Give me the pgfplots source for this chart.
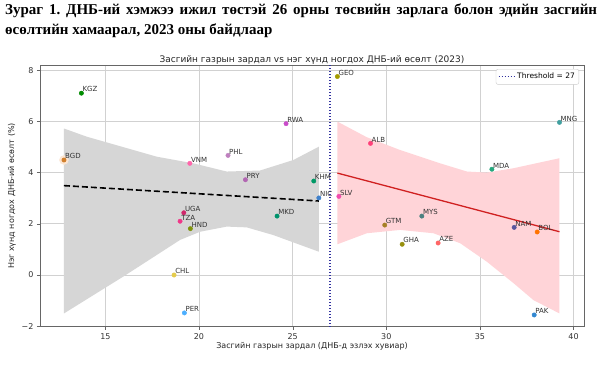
\documentclass[border=0pt]{standalone}
\usepackage{pgfplots}
\pgfplotsset{compat=1.18}
\usepackage{fontspec}
\setmainfont{DejaVu Sans}
\newfontfamily\titlefont{Liberation Serif}
\definecolor{bandgray}{RGB}{214,214,214}
\definecolor{bandpink}{RGB}{255,212,216}
\definecolor{regred}{RGB}{208,32,32}
\definecolor{thr}{RGB}{50,50,160}
\definecolor{halo}{RGB}{253,230,210}
\newcommand{\cpt}[4]{\addplot[forget plot, only marks, mark=*, mark size=2.2pt, draw=#4, fill=#4,
  nodes near coords={#3},
  every node near coord/.append style={anchor=south west, inner sep=1pt, text=black!80, font=\fontsize{7}{7}\selectfont}]
  coordinates {(#1,#2)};}
\frenchspacing
\begin{document}
\begin{tikzpicture}
\useasboundingbox (0,0) rectangle (602pt,377pt);
\fill[white] (0,0) rectangle (602pt,377pt);
\node[anchor=north west, text width=592pt, align=justify, inner sep=0pt,
  font=\titlefont\bfseries\fontsize{15}{20}\selectfont] at (5pt,373pt)
  {\frenchspacing Зураг 1. ДНБ-ий хэмжээ ижил төстэй 26 орны төсвийн зарлага болон эдийн засгийн\linebreak өсөлтийн хамаарал, 2023 оны байдлаар};
\begin{axis}[at={(40pt,50pt)}, anchor=south west, width=544pt, height=262pt, scale only axis,
  xmin=11.51, xmax=40.56, ymin=-2.03, ymax=8.2,
  xtick={15,20,25,30,35,40}, ytick={-2,0,2,4,6,8}, yticklabels={−2,0,2,4,6,8},
  grid=major, grid style={color=black!18, line width=0.6pt},
  axis line style={color=black!60, line width=1pt},
  tick style={color=black!60}, major tick length=3pt, tick align=outside, tick pos=left,
  ticklabel style={font=\fontsize{8}{9}\selectfont, text=black!80},
  /pgf/number format/assume math mode=true,
  legend style={at={(0.9908,0.9847)}, anchor=north east, font=\fontsize{7.5}{8}\selectfont,
    draw=black!20, rounded corners=2pt, inner sep=2pt},
  legend cell align=left,
  legend image code/.code={\draw[#1] (0pt,0pt) -- (16pt,0pt);}]
% confidence bands
\addplot[forget plot, fill=bandgray, draw=none] coordinates {
 (12.79,5.72) (14.01,5.40) (17.74,4.62) (19.70,4.36) (21.48,4.04) (23.26,4.08) (25.04,4.49) (26.40,5.01)
 (26.40,0.91) (23.97,1.56) (22.55,1.86) (21.48,1.89) (20.06,1.69) (18.99,1.37) (15.96,-0.06) (12.79,-1.50)} -- cycle;
\addplot[forget plot, fill=bandpink, draw=none] coordinates {
 (27.39,5.99) (28.96,5.38) (30.74,4.88) (32.88,4.36) (34.31,4.04) (35.37,4.00) (36.80,4.17) (39.25,4.56)
 (39.25,-1.50) (37.86,-0.98) (36.80,-0.32) (35.37,0.52) (33.95,1.24) (32.52,1.63) (30.74,1.76) (28.96,1.63) (27.39,1.20)} -- cycle;
% regression lines
\addplot[forget plot, black, line width=1.6pt, dash pattern=on 6pt off 3pt] coordinates {(12.79,3.49) (26.40,2.89)};
\addplot[forget plot, regred, line width=1.3pt] coordinates {(27.39,3.98) (39.25,1.69)};
% threshold
\addplot[thr, line width=1.2pt, dash pattern=on 1.2pt off 1.8pt] coordinates {(27,-2.03) (27,8.2)};
\addlegendentry{Threshold = 27}
% BGD halo
\addplot[forget plot, only marks, mark=*, mark size=4.5pt, color=halo] coordinates {(12.79,4.49)};
% points
\cpt{13.72}{7.10}{KGZ}{green!55!black}
\cpt{12.79}{4.49}{BGD}{brown!70!orange}
\cpt{19.51}{4.36}{VNM}{red!55!magenta!60!white}
\cpt{21.55}{4.67}{PHL}{violet!50!white}
\cpt{24.65}{5.91}{RWA}{violet!60!magenta!70!white}
\cpt{22.48}{3.72}{PRY}{violet!60!white}
\cpt{26.13}{3.67}{KHM}{teal!80!green}
\cpt{26.40}{3.01}{NIC}{cyan!50!blue!80!white}
\cpt{24.17}{2.30}{MKD}{teal!85!green}
\cpt{19.19}{2.43}{UGA}{magenta!70!red!85!black}
\cpt{18.99}{2.10}{TZA}{magenta!75!red!80!white}
\cpt{19.54}{1.81}{HND}{olive!75!green}
\cpt{18.67}{0.00}{CHL}{brown!50!yellow!80!white}
\cpt{19.22}{-1.48}{PER}{blue!45!cyan!70!white}
\cpt{27.39}{7.75}{GEO}{olive!80!yellow}
\cpt{39.25}{5.96}{MNG}{teal!75!white}
\cpt{29.16}{5.14}{ALB}{red!70!magenta!75!white}
\cpt{35.64}{4.13}{MDA}{teal!80!green!85!white}
\cpt{27.47}{3.07}{SLV}{magenta!70!white}
\cpt{31.90}{2.30}{MYS}{gray!60!teal}
\cpt{29.92}{1.95}{GTM}{brown!60!olive}
\cpt{30.85}{1.20}{GHA}{olive!80!yellow!90!black}
\cpt{32.77}{1.25}{AZE}{red!60!white}
\cpt{36.83}{1.86}{NAM}{gray!50!blue!70!black!80!white}
\cpt{38.06}{1.68}{BOL}{orange!90!red}
\cpt{37.90}{-1.56}{PAK}{cyan!60!blue!85!white}
\end{axis}
\node[font=\fontsize{9}{10}\selectfont, text=black!85] at (312pt,317pt) {Засгийн газрын зардал vs нэг хүнд ногдох ДНБ-ий өсөлт (2023)};
\node[font=\fontsize{8}{9}\selectfont, text=black!85] at (312pt,31pt) {Засгийн газрын зардал (ДНБ-д эзлэх хувиар)};
\node[rotate=90, font=\fontsize{8}{9}\selectfont, text=black!85] at (12pt,181pt) {Нэг хүнд ногдох ДНБ-ий өсөлт (\%)};
\end{tikzpicture}
\end{document}
